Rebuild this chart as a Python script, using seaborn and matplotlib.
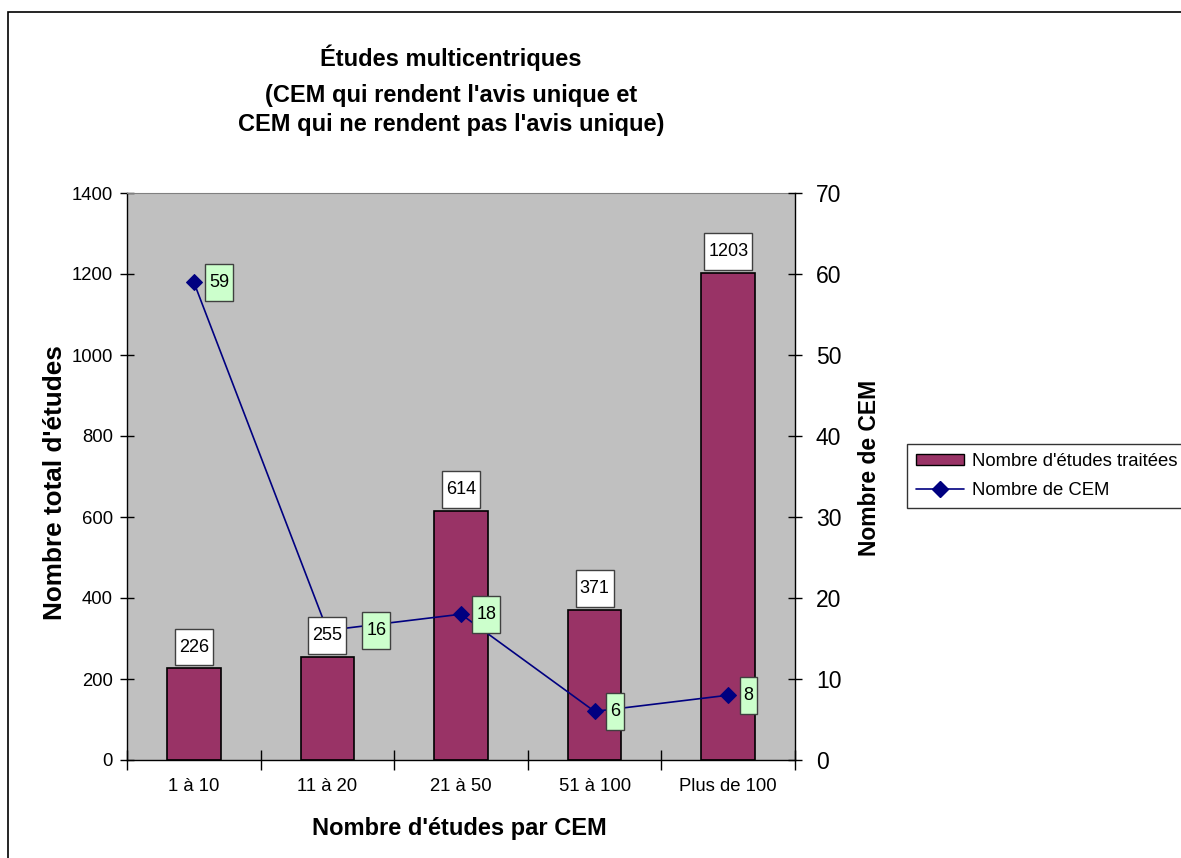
import numpy as np
import pandas as pd
import matplotlib
matplotlib.use("Agg")
import matplotlib.pyplot as plt
from matplotlib.patches import Rectangle, Patch
from matplotlib.lines import Line2D
from matplotlib.path import Path
import seaborn as sns

# Data
categories = ["1 à 10", "11 à 20", "21 à 50", "51 à 100", "Plus de 100"]
etudes_traitees = [226, 255, 614, 371, 1203]
nombre_cem = [59, 16, 18, 6, 8]

df = pd.DataFrame({"cat": categories, "etudes": etudes_traitees, "cem": nombre_cem})

sns.set_style("white")
plt.rcParams["font.family"] = ["Liberation Sans", "DejaVu Sans"]
for key in ["text.color", "axes.labelcolor", "xtick.color", "ytick.color"]:
    plt.rcParams[key] = "black"


class LabelBox:
    """Rectangular label frame with separate horizontal/vertical padding."""

    def __init__(self, padx, pady):
        self.padx = padx
        self.pady = pady

    def __call__(self, x0, y0, width, height, mutation_size):
        px = self.padx * mutation_size
        py = self.pady * mutation_size
        x0, y0 = x0 - px, y0 - py
        x1, y1 = x0 + width + 2 * px, y0 + height + 2 * py
        return Path([(x0, y0), (x1, y0), (x1, y1), (x0, y1), (x0, y0)], closed=True)


fig = plt.figure(figsize=(11.81, 8.58), dpi=100)
ax = fig.add_axes([127 / 1181, 98 / 858, 668 / 1181, 567 / 858])
ax.set_facecolor("#C0C0C0")

bar_color = "#993366"
line_color = "#000080"
label_fs = 13
box_style = LabelBox(0.22, 0.55)

sns.barplot(data=df, x="cat", y="etudes", ax=ax, color=bar_color, width=0.4,
            edgecolor="black", linewidth=1.2, saturation=1, zorder=2)

ax.set_ylim(0, 1400)
ax.set_yticks(np.arange(0, 1401, 200))
ax.set_xlim(-0.5, len(categories) - 0.5)
ax.tick_params(axis="y", which="major", direction="inout", length=10, width=1,
               labelsize=13.3, left=True, pad=5)
ax.tick_params(axis="x", which="major", length=0, labelsize=13.3, pad=13)
ax.set_xticks(np.arange(-0.5, len(categories), 1.0), minor=True)
ax.tick_params(axis="x", which="minor", direction="inout", length=14, width=1,
               bottom=True)
for side in ["left", "bottom"]:
    ax.spines[side].set_color("black")
    ax.spines[side].set_linewidth(1)
ax.spines["top"].set_color("#808080")
ax.spines["right"].set_visible(False)
ax.set_xlabel("")
ax.set_ylabel("")

# Secondary axis: number of CEM
ax2 = ax.twinx()
x_pos = np.arange(len(categories))
sns.lineplot(x=x_pos, y=nombre_cem, ax=ax2, color=line_color, linewidth=1.2,
             marker="D", markersize=8, markeredgecolor=line_color, zorder=4)
ax2.set_ylim(0, 70)
ax2.set_yticks(np.arange(0, 71, 10))
ax2.tick_params(axis="y", direction="inout", length=10, width=1, labelsize=16.5,
                right=True, pad=10)
ax2.spines["right"].set_color("black")
ax2.spines["right"].set_linewidth(1)
for side in ["left", "bottom", "top"]:
    ax2.spines[side].set_visible(False)
ax2.set_ylabel("")
ax2.set_xlim(-0.5, len(categories) - 0.5)

# Bar value boxes (drawn above the line)
for i, v in enumerate(etudes_traitees):
    ax2.annotate(str(v), xy=(i, v), xycoords=ax.transData, xytext=(0, 9.3),
                 textcoords="offset points", ha="center", va="bottom",
                 fontsize=label_fs, zorder=5,
                 bbox=dict(boxstyle=box_style, fc="white", ec="#404040", lw=1))

# CEM value boxes; the second one is pushed right to clear the bar label
cem_label_dx = [11, 28, 11, 11, 11]
for i, v in enumerate(nombre_cem):
    ax2.annotate(str(v), xy=(i, v), xytext=(cem_label_dx[i], 0),
                 textcoords="offset points", ha="left", va="center",
                 fontsize=label_fs, zorder=6,
                 bbox=dict(boxstyle=box_style, fc="#CCFFCC", ec="#404040", lw=1))

# Axis titles
fig.text(459 / 1181, 1 - 829 / 858, "Nombre d'études par CEM", ha="center",
         va="center", fontsize=17, fontweight="bold")
fig.text(55 / 1181, 1 - 483 / 858, "Nombre total d'études", ha="center",
         va="center", rotation=90, fontsize=18.8, fontweight="bold")
fig.text(869 / 1181, 1 - 468 / 858, "Nombre de CEM", ha="center",
         va="center", rotation=90, fontsize=16.5, fontweight="bold")

# Title
title_lines = ["Études multicentriques",
               "(CEM qui rendent l'avis unique et",
               "CEM qui ne rendent pas l'avis unique)"]
for line, base in zip(title_lines, [66, 102, 131]):
    fig.text(451 / 1181, 1 - base / 858, line, ha="center", va="baseline",
             fontsize=17, fontweight="bold")

# Legend
handles = [
    Patch(facecolor=bar_color, edgecolor="black", label="Nombre d'études traitées"),
    Line2D([0], [0], color=line_color, marker="D", markersize=8, lw=1.2,
           label="Nombre de CEM"),
]
leg = fig.legend(handles=handles, loc="upper left",
                 bbox_to_anchor=(907 / 1181, 1 - 444 / 858),
                 fontsize=13.3, frameon=True, fancybox=False, shadow=False,
                 borderaxespad=0, handlelength=2.6, handleheight=0.55,
                 borderpad=0.5, labelspacing=0.65, handletextpad=0.4)
leg.get_frame().set_edgecolor("black")
leg.get_frame().set_linewidth(1)

# Chart-area border
fig.patches.append(Rectangle((8 / 1181, -0.1), 1.2, 1 - 12 / 858 + 0.1,
                             transform=fig.transFigure, fill=False,
                             ec="black", lw=1.2, zorder=0))

fig.savefig("out.png", dpi=100)
